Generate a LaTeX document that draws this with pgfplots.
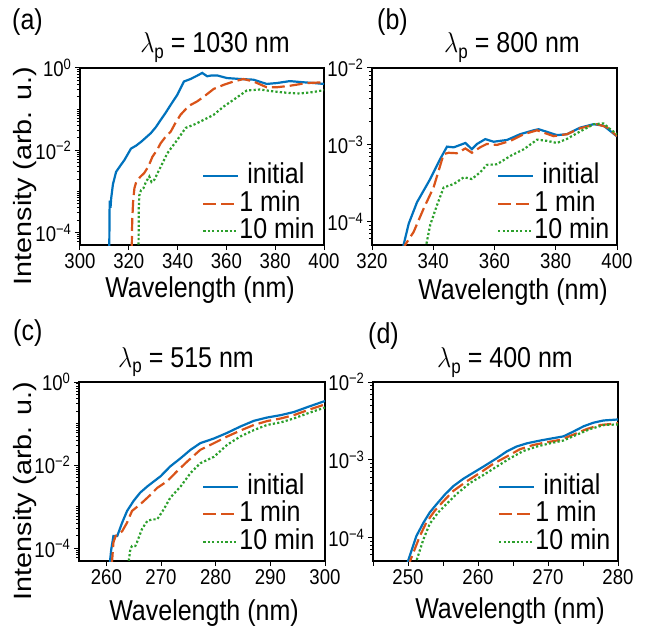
\documentclass[border=0pt]{standalone}
\usepackage{fontspec}
\setmainfont{Liberation Sans}
\usepackage{graphicx}
\usepackage{pgfplots}
\pgfplotsset{compat=1.18}

\definecolor{cinit}{HTML}{0072BD}
\definecolor{cone}{HTML}{D95319}
\definecolor{cten}{HTML}{2CA02C}

% the reference is stretched vertically, so text is too
\newcommand{\vs}[1]{\scalebox{1}[1.15]{#1}}
\newcommand{\labfont}{\fontsize{25}{30}\selectfont}
\newcommand{\tickfont}{\fontsize{18.6}{22}\selectfont}
\newcommand{\dec}[1]{\vs{10\textsuperscript{#1}}}
\newcommand{\ttl}[1]{\labfont\vs{$\lambda$\raisebox{-4.5pt}{\fontsize{17}{17}\selectfont p} = #1 nm}}

\tikzset{
  sInit/.style={cinit, line width=2.2pt},
  sOne/.style={cone, line width=2.2pt, dash pattern=on 13pt off 5pt},
  sTen/.style={cten, line width=2.2pt, dash pattern=on 2.2pt off 2.2pt},
}
\pgfplotsset{
  legend image code/.code={\draw[#1] (0pt,0pt) -- (35pt,0pt);},
  mypanel/.style={
    scale only axis,
    axis line style={line width=1.3pt},
    tick align=outside, tick pos=left,
    major tick length=5pt, minor tick length=3pt,
    every tick/.append style={black, line width=1pt},
    tick label style={font=\tickfont},
    legend cell align=left,
    legend style={draw=none, fill=none, font=\labfont, at={(0.5,0.455)}, anchor=north west,
      row sep=4.5pt, inner sep=0pt, nodes={inner sep=0pt, text height=19pt, text depth=4pt}},
  },
}
\newcommand{\mintwo}{6e-5,7e-5,8e-5,9e-5,2e-4,3e-4,4e-4,5e-4,6e-4,7e-4,8e-4,9e-4,1e-3,
      2e-3,3e-3,4e-3,5e-3,6e-3,7e-3,8e-3,9e-3,2e-2,3e-2,4e-2,5e-2,6e-2,7e-2,8e-2,9e-2,
      1e-1,2e-1,3e-1,4e-1,5e-1,6e-1,7e-1,8e-1,9e-1}
\newcommand{\minone}{6e-5,7e-5,8e-5,9e-5,2e-4,3e-4,4e-4,5e-4,6e-4,7e-4,8e-4,9e-4,
      2e-3,3e-3,4e-3,5e-3,6e-3,7e-3,8e-3,9e-3}

\begin{document}
\begin{tikzpicture}
\useasboundingbox (0,0) rectangle (645pt,630pt);

% (a) 1030 nm
\begin{axis}[mypanel, ymode=log, at={(80pt,385pt)}, anchor=south west, width=244pt, height=177pt,
  ymin=5e-5, ymax=1, ytick={1e-4,1e-2,1}, yticklabels={\dec{−4},\dec{−2},\dec{0}},
  minor ytick/.expanded=\mintwo,
  xmin=300, xmax=400, xtick={300,320,340,360,380,400},
  xticklabels={\vs{300},\vs{320},\vs{340},\vs{360},\vs{380},\vs{400}}]
\addplot[sInit] coordinates {(312.0,4e-5)(312.1,3e-4)(312.2,6e-4)(312.5,4e-4)(312.8,7e-4)(313.5,1.5e-3)
  (314.8,3e-3)(316.5,4.2e-3)(318.2,5.8e-3)(320.9,1.1e-2)(323,1.3e-2)(325,1.6e-2)(329,2.6e-2)
  (331,3.6e-2)(333.1,5.5e-2)(335,8e-2)(337.2,0.128)(339.9,0.224)(342.6,0.47)(345.3,0.54)
  (348,0.65)(350.1,0.76)(352.1,0.63)(354,0.66)(356.2,0.66)(360.2,0.57)(365.7,0.54)(371.1,0.52)
  (376.5,0.41)(380.6,0.43)(386,0.48)(391.5,0.45)(396,0.43)(400,0.41)};
\addlegendentry{\vs{\hspace{8pt}initial}}
\addplot[sOne] coordinates {(321.2,4e-5)(321.4,2e-4)(321.8,6e-4)(322.3,1.2e-3)(322.9,1.6e-3)
  (324.5,2.2e-3)(326.3,2.8e-3)(328,4e-3)(329.7,7e-3)(331.5,1.0e-2)(333.1,1.5e-2)(335,2.1e-2)
  (337.2,2.85e-2)(339,4.5e-2)(341.2,7.3e-2)(344.6,0.12)(348,0.154)(350.7,0.2)(354.8,0.31)
  (358.9,0.39)(363,0.47)(367,0.54)(371.1,0.47)(376.5,0.34)(380.6,0.34)(386,0.37)(392.8,0.43)(400,0.45)};
\addlegendentry{\vs{1 min}}
\addplot[sTen] coordinates {(324.0,4e-5)(324.1,4e-4)(324.3,8e-4)(325,1.07e-3)(326,1.2e-3)(327,1.7e-3)
  (328.4,2.3e-3)(329.3,1.7e-3)(330.4,1.9e-3)(333.1,4e-3)(335.8,8.5e-3)(339.9,1.8e-2)(343.3,3.5e-2)
  (346.7,4.2e-2)(350.7,5.5e-2)(354.8,7.3e-2)(358.9,0.116)(363,0.17)(368.4,0.285)(373.8,0.3)
  (379.2,0.27)(384.7,0.25)(390.1,0.24)(395.5,0.26)(400,0.29)};
\addlegendentry{\vs{10 min}}
\end{axis}

% (b) 800 nm
\begin{axis}[mypanel, ymode=log, at={(372pt,385pt)}, anchor=south west, width=245pt, height=177pt,
  ymin=5e-5, ymax=1e-2, ytick={1e-4,1e-3,1e-2}, yticklabels={\dec{−4},\dec{−3},\dec{−2}},
  minor ytick/.expanded=\minone,
  xmin=320, xmax=400, xtick={320,340,360,380,400},
  xticklabels={\vs{320},\vs{340},\vs{360},\vs{380},\vs{400}}, legend style={at={(0.51,0.455)}}]
\addplot[sInit] coordinates {(330.0,4e-5)(330.3,5e-5)(332,9.5e-5)(334.7,1.8e-4)(339,3.6e-4)(342.3,6.6e-4)
  (344.5,9.5e-4)(346.7,9.3e-4)(350.5,1.06e-3)(352.6,8.8e-4)(354.3,1.03e-3)(357,1.19e-3)(359.7,1.1e-3)
  (364.1,1.16e-3)(368.4,1.38e-3)(372.8,1.55e-3)(374.4,1.6e-3)(377.1,1.48e-3)(380.4,1.34e-3)
  (383.7,1.38e-3)(388,1.68e-3)(392.4,1.86e-3)(395.6,1.78e-3)(400,1.29e-3)};
\addlegendentry{\vs{\hspace{8pt}initial}}
\addplot[sOne] coordinates {(330.6,4e-5)(330.8,5e-5)(333.6,7.4e-5)(336.9,1.5e-4)(340.1,2.8e-4)
  (343.4,7.6e-4)(345,7.9e-4)(347.7,7.8e-4)(350.5,9e-4)(352.6,7.9e-4)(355.3,9.3e-4)(357.5,1.03e-3)
  (360.8,1.0e-3)(365.2,1.13e-3)(369.6,1.38e-3)(373.9,1.55e-3)(379.3,1.3e-3)(383.7,1.38e-3)
  (388,1.65e-3)(393.5,1.86e-3)(396.7,1.7e-3)(400,1.3e-3)};
\addlegendentry{\vs{1 min}}
\addplot[sTen] coordinates {(337.5,4e-5)(337.7,5e-5)(339,9.1e-5)(341.2,1.64e-4)(343.4,2.8e-4)
  (346.7,3.1e-4)(350,3.8e-4)(352.6,3.6e-4)(355.3,4.4e-4)(357.5,5.5e-4)(360.8,5.6e-4)(365.2,7.2e-4)
  (369.6,8.8e-4)(373.9,1.17e-3)(377.1,1.13e-3)(380.4,1.06e-3)(383.7,1.2e-3)(388,1.5e-3)
  (392.4,1.86e-3)(395.6,1.9e-3)(397.8,1.6e-3)(400,1.38e-3)};
\addlegendentry{\vs{10 min}}
\end{axis}

% (c) 515 nm
\begin{axis}[mypanel, ymode=log, at={(79pt,69pt)}, anchor=south west, width=246pt, height=179pt,
  ymin=5e-5, ymax=1, ytick={1e-4,1e-2,1}, yticklabels={\dec{−4},\dec{−2},\dec{0}},
  minor ytick/.expanded=\mintwo,
  xmin=255, xmax=300, xtick={260,270,280,290,300},
  xticklabels={\vs{260},\vs{270},\vs{280},\vs{290},\vs{300}}, legend style={at={(0.5,0.48)}}]
\addplot[sInit] coordinates {(260.6,4e-5)(260.9,9.5e-5)(261.3,2e-4)(262,2e-4)(262.9,4.2e-4)(263.8,8e-4)
  (265,1.4e-3)(266.2,2.2e-3)(267.5,3.1e-3)(268.7,4.1e-3)(269.9,5.4e-3)(271.7,9.4e-3)(273.6,1.48e-2)
  (275.4,2.35e-2)(277.2,3.4e-2)(279.7,4.4e-2)(282.1,6e-2)(284.5,8.5e-2)(287,0.117)(289.4,0.14)
  (291.9,0.16)(294.3,0.19)(296.8,0.25)(300,0.35)};
\addlegendentry{\vs{\hspace{8pt}initial}}
\addplot[sOne] coordinates {(261.0,4e-5)(261.3,1.4e-4)(261.7,2e-4)(262.9,2.6e-4)(263.8,4.2e-4)
  (264.7,8e-4)(266.2,1.15e-3)(267.8,1.8e-3)(269.3,2.85e-3)(271.1,4.1e-3)(272.9,7.1e-3)(274.8,1.23e-2)
  (277.2,2.35e-2)(279.7,3.4e-2)(282.1,4.9e-2)(284.5,6.8e-2)(287,9.3e-2)(289.4,0.115)(291.9,0.133)
  (294.3,0.16)(296.8,0.21)(300,0.29)};
\addlegendentry{\vs{1 min}}
\addplot[sTen] coordinates {(264.0,4e-5)(264.4,9.7e-5)(264.7,1.15e-4)(265.3,1.15e-4)(265.6,1.4e-4)
  (266.5,2.9e-4)(267.5,4.6e-4)(268.4,5e-4)(269.3,5e-4)(270.5,8.7e-4)(271.7,1.66e-3)(273.6,3.1e-3)
  (275.4,6.5e-3)(277.2,1.12e-2)(279.7,1.6e-2)(282.1,3.1e-2)(284.5,4.9e-2)(287,7e-2)(289.4,9.3e-2)
  (291.9,0.107)(294.3,0.133)(296.8,0.176)(300,0.244)};
\addlegendentry{\vs{10 min}}
\end{axis}

% (d) 400 nm
\begin{axis}[mypanel, ymode=log, at={(373pt,69pt)}, anchor=south west, width=245pt, height=179pt,
  ymin=5e-5, ymax=1e-2, ytick={1e-4,1e-3,1e-2}, yticklabels={\dec{−4},\dec{−3},\dec{−2}},
  minor ytick/.expanded=\minone,
  xmin=245, xmax=280, xtick={245,250,255,260,265,270,275,280},
  xticklabels={,\vs{250},,\vs{260},,\vs{270},,\vs{280}}, legend style={at={(0.51,0.48)}}]
\addplot[sInit] coordinates {(249.8,4e-5)(250,5e-5)(251.2,1.05e-4)(252.2,1.55e-4)(253.1,2.1e-4)
  (254.1,2.7e-4)(255.3,3.6e-4)(256.5,4.6e-4)(257.9,5.7e-4)(259.3,6.8e-4)(260.8,8.2e-4)(262.7,1.05e-3)
  (264.1,1.28e-3)(265.5,1.48e-3)(267,1.63e-3)(268.9,1.77e-3)(270.8,1.9e-3)(272.2,2e-3)(273.6,2.3e-3)
  (275.1,2.7e-3)(276.5,3e-3)(277.9,3.2e-3)(280,3.3e-3)};
\addlegendentry{\vs{\hspace{8pt}initial}}
\addplot[sOne] coordinates {(250.1,4e-5)(250.3,5e-5)(251.7,1.05e-4)(252.6,1.55e-4)(253.8,2.2e-4)
  (255,2.9e-4)(256.5,4e-4)(258.4,5.3e-4)(260.3,6.8e-4)(262.2,8.9e-4)(264.1,1.1e-3)(266,1.37e-3)
  (267.9,1.55e-3)(269.8,1.68e-3)(271.7,1.8e-3)(273.6,2.1e-3)(275.6,2.5e-3)(277.5,2.8e-3)(280,2.95e-3)};
\addlegendentry{\vs{1 min}}
\addplot[sTen] coordinates {(251.0,4e-5)(251.2,5e-5)(252.2,9.5e-5)(253.1,1.5e-4)(254.3,2.1e-4)
  (255.5,2.7e-4)(256.9,3.6e-4)(258.8,5e-4)(260.8,6.4e-4)(262.7,8.2e-4)(264.6,1.05e-3)(266.5,1.3e-3)
  (268.4,1.48e-3)(270.3,1.63e-3)(272.2,1.77e-3)(274.1,2.1e-3)(276.1,2.5e-3)(278,2.8e-3)(280,2.85e-3)};
\addlegendentry{\vs{10 min}}
\end{axis}

% panel letters, titles, axis labels
\node[anchor=north west, inner sep=0pt, font=\labfont] at (12pt,622pt) {\vs{(a)}};
\node[anchor=north west, inner sep=0pt, font=\labfont] at (377pt,622pt) {\vs{(b)}};
\node[anchor=north west, inner sep=0pt, font=\labfont] at (13pt,311pt) {\vs{(c)}};
\node[anchor=north west, inner sep=0pt, font=\labfont] at (368pt,308pt) {\vs{(d)}};

\node[anchor=base, inner sep=0pt] at (215pt,577pt) {\ttl{1030}};
\node[anchor=base, inner sep=0pt] at (512pt,577pt) {\ttl{800}};
\node[anchor=base, inner sep=0pt] at (186pt,263pt) {\ttl{515}};
\node[anchor=base, inner sep=0pt] at (505pt,262pt) {\ttl{400}};

\node[anchor=base, inner sep=0pt, font=\labfont] at (200pt,332pt) {\vs{Wavelength (nm)}};
\node[anchor=base, inner sep=0pt, font=\labfont] at (513pt,330pt) {\vs{Wavelength (nm)}};
\node[anchor=base, inner sep=0pt, font=\labfont] at (204pt,10pt) {\vs{Wavelength (nm)}};
\node[anchor=base, inner sep=0pt, font=\labfont] at (510pt,12pt) {\vs{Wavelength (nm)}};

\node[rotate=90, inner sep=0pt, font=\labfont] at (25pt,454pt) {\scalebox{1.15}[1]{Intensity (arb. u.)}};
\node[rotate=90, inner sep=0pt, font=\labfont] at (25pt,139pt) {\scalebox{1.15}[1]{Intensity (arb. u.)}};
\end{tikzpicture}
\end{document}
